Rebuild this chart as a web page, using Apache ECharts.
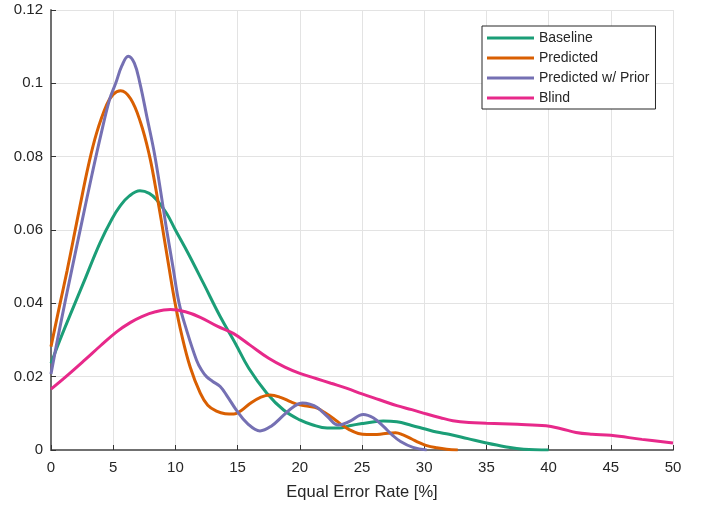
<!DOCTYPE html>
<html>
<head>
<meta charset="utf-8">
<script src="https://cdn.jsdelivr.net/npm/echarts@6/dist/echarts.min.js"></script>
<style>
  html, body { margin: 0; padding: 0; background: #fff; }
  #chartEER { width: 702px; height: 506px; }
</style>
</head>
<body>
<div id="chartEER"></div>
<script>
// equal error rate densities
var seriesNames = ['Baseline', 'Predicted', 'Predicted w/ Prior', 'Blind'];

var baselineX = [0, 0.72, 1.5, 2.6, 3.94, 4.9, 5.55, 6.3, 7.15, 7.9, 8.5, 9.3, 10, 11, 12.25, 13.6, 14.8, 15.9, 17.35, 18.7, 20, 21, 22.2, 23.2, 24, 25, 26, 26.7, 27.8, 29, 30, 31, 32, 33.5, 35, 36.5, 38, 40];
var baselineY = [0.0236, 0.030, 0.0365, 0.0455, 0.0565, 0.063, 0.0665, 0.0693, 0.0707, 0.070, 0.0682, 0.0645, 0.060, 0.0538, 0.0455, 0.0364, 0.0292, 0.0223, 0.0155, 0.0109, 0.0082, 0.0069, 0.006, 0.006, 0.0066, 0.0072, 0.0077, 0.0079, 0.0077, 0.0067, 0.0058, 0.0049, 0.0043, 0.0031, 0.0019, 0.0009, 0.0002, 0];

var predictedX = [0, 0.7, 1.3, 1.8, 2.33, 3.0, 3.67, 4.48, 5.0, 5.6, 6.4, 7.2, 7.9, 8.36, 8.92, 9.45, 9.95, 10.5, 11.2, 12, 12.6, 13.3, 14, 14.7, 15.3, 16, 16.8, 17.6, 18.5, 19.3, 20, 20.7, 21.4, 22, 22.7, 23.4, 24, 24.7, 25.4, 26, 26.7, 27.7, 28.3, 29, 29.6, 30.2, 31, 31.8, 32.7];
var predictedY = [0.0282, 0.0395, 0.049, 0.0575, 0.0665, 0.0775, 0.0865, 0.0942, 0.097, 0.098, 0.0958, 0.0893, 0.0805, 0.0725, 0.0615, 0.0505, 0.0405, 0.0315, 0.0225, 0.0155, 0.0122, 0.0106, 0.0099, 0.0098, 0.0108, 0.0127, 0.0143, 0.015, 0.0143, 0.0131, 0.0123, 0.0119, 0.0114, 0.0102, 0.0086, 0.0068, 0.0055, 0.0045, 0.0042, 0.0042, 0.0044, 0.0047, 0.0041, 0.003, 0.002, 0.0012, 0.0006, 0.0002, 0];

var priorX = [0, 0.72, 1.66, 2.5, 3.3, 4.0, 4.7, 5.2, 5.7, 6.21, 6.7, 7.15, 7.7, 8.36, 9.3, 9.8, 10.3, 10.9, 11.7, 12.1, 12.5, 13, 13.6, 14.2, 14.9, 15.8, 16.8, 17.7, 18.7, 19.5, 20.2, 20.8, 21.4, 22.2, 23.1, 24, 25.1, 25.9, 26.7, 27.4, 28.1, 29.1, 30.2];
var priorY = [0.0207, 0.0335, 0.049, 0.0625, 0.0752, 0.0858, 0.0955, 0.100, 0.1048, 0.1074, 0.1055, 0.100, 0.091, 0.080, 0.060, 0.050, 0.040, 0.0327, 0.0245, 0.0218, 0.020, 0.0187, 0.0173, 0.0145, 0.0109, 0.0072, 0.0052, 0.0065, 0.0095, 0.0118, 0.0128, 0.0125, 0.0116, 0.0092, 0.0068, 0.0078, 0.0097, 0.0088, 0.0065, 0.0042, 0.0023, 0.0007, 0];

var blindX = [0, 1.13, 2.7, 4, 5.3, 6.4, 7.3, 8.4, 9.6, 10.8, 12, 13.4, 14.65, 16, 17.5, 18.8, 20, 21.3, 22.5, 23.8, 25, 26.4, 27.8, 29, 30.2, 31.3, 32.3, 33.6, 35, 37.5, 39.8, 41, 42.2, 43.5, 45, 47.5, 50];
var blindY = [0.0166, 0.0198, 0.0245, 0.0285, 0.0323, 0.0348, 0.0364, 0.0377, 0.0383, 0.0377, 0.0362, 0.0337, 0.0318, 0.0286, 0.025, 0.0226, 0.0209, 0.0195, 0.0182, 0.0168, 0.0153, 0.0137, 0.0121, 0.011, 0.0098, 0.0088, 0.008, 0.0075, 0.0073, 0.007, 0.0066, 0.0058, 0.0048, 0.0043, 0.004, 0.0029, 0.0019];

var colors = ['#1b9e77', '#d95f02', '#7570b3', '#e7298a'];

function pairs(xs, ys) {
	var res = [];
	for (var i = 0; i < xs.length; i++) {
		res.push([xs[i], ys[i]]);
	}
	return res;
}

var chart_eer = echarts.init(document.getElementById('chartEER'));

var font = '"Liberation Sans", Arial, Helvetica, sans-serif';
var axisGray = '#707070';

function makeSeries(name, xs, ys) {
	return {
		name: name,
		type: 'line',
		data: pairs(xs, ys),
		smooth: 0.4,
		symbol: 'none',
		showSymbol: false,
		lineStyle: { width: 3 },
		z: 3
	};
}

chart_eer.setOption({
	color: colors,
	animation: false,
	grid: { left: 51, right: 29, top: 10, bottom: 56 },
	legend: {
		orient: 'vertical',
		left: 482,
		top: 26,
		padding: [5, 6, 4, 5],
		icon: 'rect',
		itemWidth: 47,
		itemHeight: 3,
		itemGap: 6,
		backgroundColor: '#ffffff',
		borderColor: '#262626',
		borderWidth: 1,
		textStyle: { fontFamily: font, fontSize: 14, color: '#262626', lineHeight: 14 },
		data: seriesNames
	},
	xAxis: {
		type: 'value',
		min: 0,
		max: 50,
		interval: 5,
		name: 'Equal Error Rate [%]',
		nameLocation: 'middle',
		nameGap: 42,
		nameTextStyle: { fontFamily: font, fontSize: 16.5, color: '#262626', verticalAlign: 'middle' },
		axisLine: { lineStyle: { color: axisGray, width: 2 } },
		axisTick: { inside: true, length: 5, lineStyle: { color: '#333' } },
		axisLabel: { fontFamily: font, fontSize: 15, color: '#262626', margin: 10 },
		splitLine: { show: true, lineStyle: { color: '#e3e3e3', width: 1 } }
	},
	yAxis: {
		type: 'value',
		min: 0,
		max: 0.12,
		interval: 0.02,
		axisLine: { show: true, lineStyle: { color: axisGray, width: 2 } },
		axisTick: { show: true, inside: true, length: 5, lineStyle: { color: '#333' } },
		axisLabel: { fontFamily: font, fontSize: 15, color: '#262626', margin: 8 },
		splitLine: { show: true, lineStyle: { color: '#e3e3e3', width: 1 } }
	},
	series: [
		makeSeries(seriesNames[0], baselineX, baselineY),
		makeSeries(seriesNames[1], predictedX, predictedY),
		makeSeries(seriesNames[2], priorX, priorY),
		makeSeries(seriesNames[3], blindX, blindY)
	]
});
</script>
</body>
</html>
